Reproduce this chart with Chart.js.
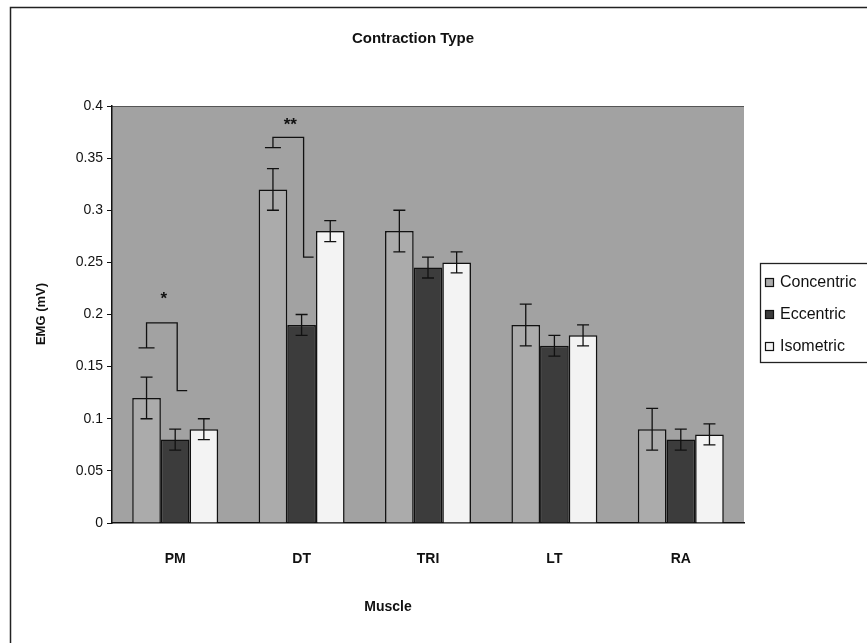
<!DOCTYPE html>
<html>
<head>
<meta charset="utf-8">
<script src="https://cdn.jsdelivr.net/npm/chart.js@4.4.1/dist/chart.umd.min.js"></script>
<style>
  html, body { margin: 0; padding: 0; background: #ffffff; }
  #wrap { width: 867px; height: 643px; position: relative; }
</style>
</head>
<body>
<div id="wrap"><canvas id="chart" width="867" height="643"></canvas></div>
<script>
// Muscle groups on the category axis
const muscles = ['PM', 'DT', 'TRI', 'LT', 'RA'];

// Mean EMG amplitude (mV) per contraction type
const concentric = [0.12, 0.32, 0.28, 0.19, 0.09];
const eccentric  = [0.08, 0.19, 0.245, 0.17, 0.08];
const isometric  = [0.09, 0.28, 0.25, 0.18, 0.085];

// Error bar half-lengths (mV)
const concentricErr = [0.02, 0.02, 0.02, 0.02, 0.02];
const eccentricErr  = [0.01, 0.01, 0.01, 0.01, 0.01];
const isometricErr  = [0.01, 0.01, 0.01, 0.01, 0.01];

// Y axis ticks
const yTicks = [0, 0.05, 0.1, 0.15, 0.2, 0.25, 0.3, 0.35, 0.4];

// Significance brackets between concentric and eccentric bars
const bracketMuscle = [0, 1];
const bracketStart  = [0.168, 0.36];
const bracketTop    = [0.192, 0.37];
const bracketEnd    = [0.127, 0.255];
const bracketStars  = ['*', '**'];
const starLevel     = [0.218, 0.385];

const FONT = '"Liberation Sans", Arial, sans-serif';

const errorSets = [concentricErr, eccentricErr, isometricErr];

const framePlugin = {
  id: 'frame',
  beforeDraw(chart) {
    const ctx = chart.ctx;
    const a = chart.chartArea;
    ctx.save();
    ctx.fillStyle = '#ffffff';
    ctx.fillRect(0, 0, chart.width, chart.height);
    // outer chart border
    ctx.strokeStyle = '#222';
    ctx.lineWidth = 1.5;
    ctx.strokeRect(10.5, 7.5, 1000, 1000);
    // plot area fill
    ctx.fillStyle = '#a2a2a2';
    ctx.fillRect(a.left, a.top, a.right - a.left, a.bottom - a.top);
    ctx.strokeStyle = '#555';
    ctx.lineWidth = 1;
    ctx.beginPath();
    ctx.moveTo(a.left, a.top + 0.5);
    ctx.lineTo(a.right, a.top + 0.5);
    ctx.stroke();
    ctx.restore();
  }
};

const annotatePlugin = {
  id: 'annotate',
  afterDatasetsDraw(chart) {
    const ctx = chart.ctx;
    const y = chart.scales.y;
    ctx.save();
    ctx.strokeStyle = '#111';
    ctx.lineWidth = 1.3;
    // error bars
    errorSets.forEach((errs, di) => {
      const meta = chart.getDatasetMeta(di);
      const vals = chart.data.datasets[di].data;
      meta.data.forEach((bar, i) => {
        const yHi = y.getPixelForValue(vals[i] + errs[i]);
        const yLo = y.getPixelForValue(vals[i] - errs[i]);
        const cap = 6;
        ctx.beginPath();
        ctx.moveTo(bar.x, yHi); ctx.lineTo(bar.x, yLo);
        ctx.moveTo(bar.x - cap, yHi); ctx.lineTo(bar.x + cap, yHi);
        ctx.moveTo(bar.x - cap, yLo); ctx.lineTo(bar.x + cap, yLo);
        ctx.stroke();
      });
    });
    // significance brackets
    const cMeta = chart.getDatasetMeta(0);
    const eMeta = chart.getDatasetMeta(1);
    bracketMuscle.forEach((m, k) => {
      const x1 = cMeta.data[m].x;
      const x2 = eMeta.data[m].x + 2;
      const ys = y.getPixelForValue(bracketStart[k]);
      const yt = y.getPixelForValue(bracketTop[k]);
      const ye = y.getPixelForValue(bracketEnd[k]);
      ctx.beginPath();
      ctx.moveTo(x1 - 8, ys); ctx.lineTo(x1 + 8, ys);
      ctx.moveTo(x1, ys); ctx.lineTo(x1, yt);
      ctx.lineTo(x2, yt); ctx.lineTo(x2, ye);
      ctx.lineTo(x2 + 10, ye);
      ctx.stroke();
      ctx.fillStyle = '#111';
      ctx.font = 'bold 17px ' + FONT;
      ctx.textAlign = 'center';
      ctx.textBaseline = 'middle';
      ctx.fillText(bracketStars[k], (x1 + x2) / 2 + 2, y.getPixelForValue(starLevel[k]) + 4);
    });
    ctx.restore();
  },
  afterDraw(chart) {
    const ctx = chart.ctx;
    ctx.save();
    ctx.fillStyle = '#111';
    ctx.textAlign = 'center';
    ctx.textBaseline = 'middle';
    // chart title
    ctx.font = 'bold 15px ' + FONT;
    ctx.fillText('Contraction Type', 413, 39);
    // axis titles
    ctx.font = 'bold 14px ' + FONT;
    ctx.fillText('Muscle', 388, 607);
    ctx.save();
    ctx.translate(41, 314);
    ctx.rotate(-Math.PI / 2);
    ctx.font = 'bold 13px ' + FONT;
    ctx.fillText('EMG (mV)', 0, 0);
    ctx.restore();
    // legend box
    const lx = 760, ly = 263;
    ctx.strokeStyle = '#222';
    ctx.lineWidth = 1.3;
    ctx.strokeRect(lx + 0.5, ly + 0.5, 200, 99);
    ctx.textAlign = 'left';
    ctx.font = '16px ' + FONT;
    const rowY = [282, 314, 346];
    chart.data.datasets.forEach((ds, i) => {
      ctx.fillStyle = ds.backgroundColor;
      ctx.fillRect(lx + 5, rowY[i] - 4, 9, 9);
      ctx.strokeStyle = '#111';
      ctx.lineWidth = 1.2;
      ctx.strokeRect(lx + 5.5, rowY[i] - 3.5, 8, 8);
      ctx.fillStyle = '#111';
      ctx.fillText(ds.label, lx + 20, rowY[i] + 1);
    });
    ctx.restore();
  }
};

new Chart(document.getElementById('chart'), {
  type: 'bar',
  data: {
    labels: muscles,
    datasets: [
      { label: 'Concentric', data: concentric, backgroundColor: '#ababab', borderColor: '#111', borderWidth: 1.5 },
      { label: 'Eccentric',  data: eccentric,  backgroundColor: '#3c3c3c', borderColor: '#111', borderWidth: 1.5 },
      { label: 'Isometric',  data: isometric,  backgroundColor: '#f3f3f3', borderColor: '#111', borderWidth: 1.5 }
    ]
  },
  options: {
    responsive: false,
    animation: false,
    layout: { padding: { left: 12, right: 123, top: 106, bottom: 0 } },
    plugins: {
      legend: { display: false },
      title: { display: false },
      tooltip: { enabled: false }
    },
    datasets: { bar: { categoryPercentage: 0.68, barPercentage: 1.0 } },
    scales: {
      x: {
        grid: { display: false, drawTicks: false },
        border: { display: true, color: '#111', width: 1.5 },
        ticks: { color: '#111', padding: 28, font: { family: FONT, size: 14, weight: 'bold' } },
        afterFit: s => { s.height = 120; }
      },
      y: {
        min: 0,
        max: 0.4,
        afterBuildTicks: s => { s.ticks = yTicks.map(v => ({ value: v })); },
        grid: { drawOnChartArea: false, drawTicks: true, tickLength: 5, color: '#111' },
        border: { display: true, color: '#111', width: 1.5 },
        ticks: { color: '#111', padding: 4, font: { family: FONT, size: 14 }, callback: v => String(v) },
        afterFit: s => { s.width = 100; }
      }
    }
  },
  plugins: [framePlugin, annotatePlugin]
});
</script>
</body>
</html>
